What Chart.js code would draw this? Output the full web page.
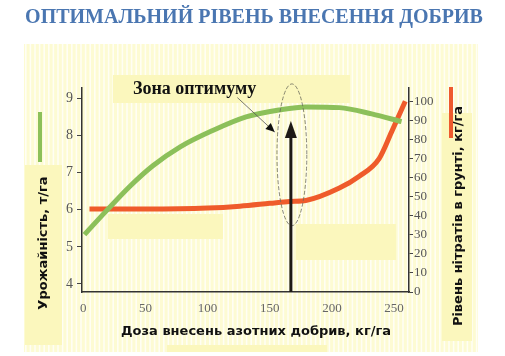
<!DOCTYPE html>
<html>
<head>
<meta charset="utf-8">
<script src="https://cdn.jsdelivr.net/npm/chart.js@4"></script>
<style>
html,body{margin:0;padding:0;background:#fff;}
#wrap{width:505px;height:356px;position:relative;}
</style>
</head>
<body>
<div id="wrap"><canvas id="c" width="505" height="356"></canvas></div>
<script>
// ---- data ----
const titleText = "ОПТИМАЛЬНИЙ РІВЕНЬ ВНЕСЕННЯ ДОБРИВ";
const xTitle = "Доза внесень азотних добрив, кг/га";
const yLeftTitle = "Урожайність, т/га";
const yRightTitle = "Рівень нітратів в грунті, кг/га";
const zoneLabel = "Зона оптимуму";

const yieldDose = [1, 18, 38, 56, 78, 104, 131, 158, 179, 206, 232, 256];
const yieldVal  = [5.33, 5.95, 6.65, 7.19, 7.70, 8.14, 8.51, 8.70, 8.78, 8.76, 8.59, 8.38];

const nitrateDose = [5, 50, 100, 126, 150, 166, 179, 206, 222, 238, 248, 259];
const nitrateVal  = [43.5, 43.5, 44, 45, 46.5, 47.5, 48, 54.5, 60.7, 70, 84, 100];

const xTicks = [0, 50, 100, 150, 200, 250];
const leftTicks = [4, 5, 6, 7, 8, 9];
const rightTicks = [0, 10, 20, 30, 40, 50, 60, 70, 80, 90, 100];

const optimumDose = 167;        // vertical arrow position (kg/ha)
const optimumArrowTop = 8.4;    // arrow tip on yield scale
const ellipseTop = 9.4, ellipseBottom = 5.57, ellipseHalfWidth = 12;

const pts = (xs, ys) => xs.map((x, i) => ({x, y: ys[i]}));

const deco = {
  id: 'deco',
  beforeDraw(chart) {
    const ctx = chart.ctx;
    ctx.save();
    ctx.fillStyle = '#ffffff';
    ctx.fillRect(0, 0, chart.width, chart.height);
    // striped pale-yellow background
    ctx.fillStyle = '#fdfbd3';
    ctx.fillRect(24, 44, 454, 308);
    ctx.fillStyle = 'rgba(255,255,255,0.75)';
    for (let x = 25; x < 478; x += 4.6) ctx.fillRect(x, 44, 1.6, 308);
    // solid highlight boxes
    ctx.fillStyle = '#fbf7bd';
    ctx.fillRect(113, 75, 237, 28);
    ctx.fillRect(108, 214, 115, 25);
    ctx.fillRect(296, 224, 100, 36);
    ctx.fillRect(25, 165, 37, 180);
    ctx.fillRect(442, 113, 30, 228);
    ctx.fillRect(167, 345, 160, 7);
    ctx.restore();
  },
  afterDatasetsDraw(chart) {
    const ctx = chart.ctx;
    const xs = chart.scales.x, yl = chart.scales.y;
    const ax = xs.getPixelForValue(optimumDose);
    const atop = yl.getPixelForValue(optimumArrowTop);
    const bottom = chart.chartArea.bottom;
    ctx.save();
    // ellipse (dashed)
    const ey1 = yl.getPixelForValue(ellipseTop), ey2 = yl.getPixelForValue(ellipseBottom);
    const erx = xs.getPixelForValue(optimumDose + ellipseHalfWidth) - ax;
    ctx.setLineDash([4, 2]);
    ctx.strokeStyle = '#6a6a5a';
    ctx.lineWidth = 0.8;
    ctx.beginPath();
    ctx.ellipse(ax + 1, (ey1 + ey2) / 2, erx, (ey2 - ey1) / 2, 0, 0, Math.PI * 2);
    ctx.stroke();
    ctx.setLineDash([]);
    // main arrow
    ctx.strokeStyle = '#1e1a16';
    ctx.fillStyle = '#1e1a16';
    ctx.lineWidth = 3;
    ctx.beginPath();
    ctx.moveTo(ax, bottom);
    ctx.lineTo(ax, atop + 12);
    ctx.stroke();
    ctx.beginPath();
    ctx.moveTo(ax, atop);
    ctx.lineTo(ax - 6, atop + 17);
    ctx.lineTo(ax + 6, atop + 17);
    ctx.closePath();
    ctx.fill();
    // thin pointer arrow
    const p1x = xs.getPixelForValue(124), p1y = yl.getPixelForValue(9.03);
    const p2x = xs.getPixelForValue(154), p2y = yl.getPixelForValue(8.1);
    ctx.strokeStyle = '#555';
    ctx.lineWidth = 0.8;
    ctx.beginPath();
    ctx.moveTo(p1x, p1y);
    ctx.lineTo(p2x, p2y);
    ctx.stroke();
    const ang = Math.atan2(p2y - p1y, p2x - p1x);
    ctx.fillStyle = '#111';
    ctx.beginPath();
    ctx.moveTo(p2x, p2y);
    ctx.lineTo(p2x - 9 * Math.cos(ang) + 4 * Math.sin(ang), p2y - 9 * Math.sin(ang) - 4 * Math.cos(ang));
    ctx.lineTo(p2x - 9 * Math.cos(ang) - 4 * Math.sin(ang), p2y - 9 * Math.sin(ang) + 4 * Math.cos(ang));
    ctx.closePath();
    ctx.fill();
    ctx.restore();
  },
  afterDraw(chart) {
    const ctx = chart.ctx;
    ctx.save();
    // title
    ctx.fillStyle = '#4a76b1';
    ctx.font = 'bold 20px "Liberation Serif", serif';
    ctx.textAlign = 'center';
    ctx.textBaseline = 'middle';
    ctx.fillText(titleText, 254, 18);
    // zone label
    ctx.fillStyle = '#111';
    ctx.font = 'bold 18px "Liberation Serif", serif';
    ctx.textAlign = 'left';
    ctx.textBaseline = 'alphabetic';
    ctx.fillText(zoneLabel, 133, 94);
    // x title
    ctx.font = 'bold 13px "DejaVu Sans", sans-serif';
    ctx.textAlign = 'center';
    ctx.textBaseline = 'middle';
    ctx.fillText(xTitle, 256, 332);
    // left y title
    ctx.save();
    ctx.translate(44, 243);
    ctx.rotate(-Math.PI / 2);
    ctx.fillText(yLeftTitle, 0, 0);
    ctx.restore();
    // right y title
    ctx.save();
    ctx.translate(459, 216);
    ctx.rotate(-Math.PI / 2);
    ctx.fillText(yRightTitle, 0, 0);
    ctx.restore();
    // legend markers
    ctx.fillStyle = '#8cc05a';
    ctx.fillRect(38, 112, 4, 50);
    ctx.fillStyle = '#ee5a2e';
    ctx.fillRect(449, 87, 4, 51);
    ctx.restore();
  }
};

const tickFont = {family: '"Liberation Serif", serif', size: 14};

new Chart(document.getElementById('c'), {
  type: 'line',
  data: {
    datasets: [
      {
        label: 'Урожайність',
        data: pts(yieldDose, yieldVal),
        yAxisID: 'y',
        borderColor: '#8cc05a',
        borderWidth: 5,
        pointRadius: 0,
        fill: false,
        tension: 0.4,
        cubicInterpolationMode: 'monotone'
      },
      {
        label: 'Нітрати',
        data: pts(nitrateDose, nitrateVal),
        yAxisID: 'y1',
        borderColor: '#ef5b2b',
        borderWidth: 5,
        pointRadius: 0,
        fill: false,
        tension: 0.4,
        cubicInterpolationMode: 'monotone'
      }
    ]
  },
  options: {
    responsive: false,
    animation: false,
    devicePixelRatio: 1,
    layout: {padding: {top: 88, left: 0, right: 0, bottom: 0}},
    plugins: {legend: {display: false}, tooltip: {enabled: false}, title: {display: false}},
    scales: {
      x: {
        type: 'linear',
        min: -1, max: 262,
        afterBuildTicks: s => { s.ticks = xTicks.map(v => ({value: v})); },
        afterFit: s => { s.height = 64; },
        grid: {display: false, drawTicks: false},
        border: {display: true, color: '#333', width: 1.5},
        ticks: {font: {family: '"Liberation Serif", serif', size: 13}, color: '#666', padding: 9, maxRotation: 0}
      },
      y: {
        type: 'linear', position: 'left',
        min: 3.78, max: 9.29,
        afterBuildTicks: s => { s.ticks = leftTicks.map(v => ({value: v})); },
        afterFit: s => { s.width = 82; },
        grid: {drawOnChartArea: false, drawTicks: true, tickLength: 5, color: '#444'},
        border: {display: true, color: '#333', width: 1.5},
        ticks: {font: tickFont, color: '#555', padding: 4}
      },
      y1: {
        type: 'linear', position: 'right',
        min: 0, max: 107,
        afterBuildTicks: s => { s.ticks = rightTicks.map(v => ({value: v})); },
        afterFit: s => { s.width = 96; },
        grid: {drawOnChartArea: false, drawTicks: true, tickLength: 4, color: '#444'},
        border: {display: true, color: '#333', width: 1.5},
        ticks: {font: {family: '"Liberation Serif", serif', size: 13}, color: '#555', padding: 1}
      }
    }
  },
  plugins: [deco]
});
</script>
</body>
</html>
